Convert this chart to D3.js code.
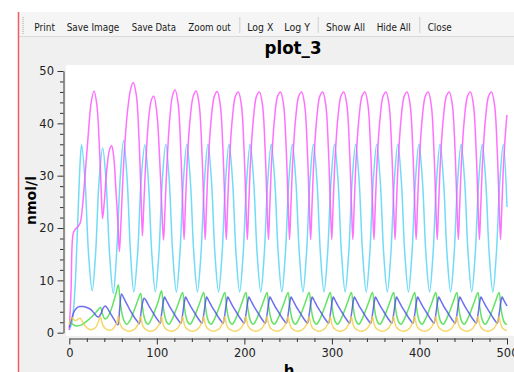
<!DOCTYPE html>
<html><head><meta charset="utf-8">
<script src="https://cdn.jsdelivr.net/npm/d3@7/dist/d3.min.js"></script>
<style>html,body{margin:0;padding:0;background:#fff;overflow:hidden}</style>
</head><body><svg id="c" width="514" height="372"></svg>
<script>
const title = "plot_3";
const xLabel = "h";
const yLabel = "nmol/l";
const toolbarItems = ["Print","Save Image","Save Data","Zoom out","|","Log X","Log Y","|","Show All","Hide All","|","Close"];
const xTicks = [0,100,200,300,400,500];
const yTicks = [0,10,20,30,40,50];

const magenta = [[0,0.5],[2,8],[4.5,19],[7,19.8],[10,20.3],[12.5,21],[15,24],[18,30],[21.5,37.5],[25,44],[28.3,46.2],[31.5,43.5],[34.5,35],[36.5,27],[38,21.8],[40,25],[43,31.5],[46,35],[48.3,35.7],[50.5,34],[53,28],[55.5,21],[57.2,15.5],[59,21],[62,32],[66,41.5],[70,46.5],[73,47.8],[76.5,45.5],[79.5,37.5],[82,26],[83.5,18.5],[85,24],[87.5,33],[91,41.5],[94,44.6],[96.5,45.2],[100,42],[103,34],[105.5,24.5],[107.6,17.7],[109.2,23],[111.5,32],[114.8,41],[117.8,45.2],
[120.8,46.4],[124.3,43.8],[127.3,35],[129.6,24],[131.1,17.8],[132.6,24],[134.8,33],[138.1,41],[141.6,45.2],
[144.9,46.2],[148.4,43.5],[151.4,35],[153.7,24],[155.2,17.8],[156.7,24],[158.9,33],[162.2,41],[165.7,45.2],
[169,46.1],[172.5,43.5],[175.5,35],[177.8,24],[179.3,17.8],[180.8,24],[183,33],[186.3,41],[189.8,45.2],
[193.1,46],[196.6,43.5],[199.6,35],[201.9,24],[203.4,17.8],[204.9,24],[207.1,33],[210.4,41],[213.9,45.2],
[217.2,46],[220.7,43.5],[223.7,35],[226,24],[227.5,17.8],[229,24],[231.2,33],[234.5,41],[238,45.2],
[241.3,46],[244.8,43.5],[247.8,35],[250.1,24],[251.6,17.8],[253.1,24],[255.3,33],[258.6,41],[262.1,45.2],
[265.4,46],[268.9,43.5],[271.9,35],[274.2,24],[275.7,17.8],[277.2,24],[279.4,33],[282.7,41],[286.2,45.2],
[289.5,46],[293,43.5],[296,35],[298.3,24],[299.8,17.8],[301.3,24],[303.5,33],[306.8,41],[310.3,45.2],
[313.6,46],[317.1,43.5],[320.1,35],[322.4,24],[323.9,17.8],[325.4,24],[327.6,33],[330.9,41],[334.4,45.2],
[337.7,46],[341.2,43.5],[344.2,35],[346.5,24],[348,17.8],[349.5,24],[351.7,33],[355,41],[358.5,45.2],
[361.8,46],[365.3,43.5],[368.3,35],[370.6,24],[372.1,17.8],[373.6,24],[375.8,33],[379.1,41],[382.6,45.2],
[385.9,46],[389.4,43.5],[392.4,35],[394.7,24],[396.2,17.8],[397.7,24],[399.9,33],[403.2,41],[406.7,45.2],
[410,46],[413.5,43.5],[416.5,35],[418.8,24],[420.3,17.8],[421.8,24],[424,33],[427.3,41],[430.8,45.2],
[434.1,46],[437.6,43.5],[440.6,35],[442.9,24],[444.4,17.8],[445.9,24],[448.1,33],[451.4,41],[454.9,45.2],
[458.2,46],[461.7,43.5],[464.7,35],[467,24],[468.5,17.8],[470,24],[472.2,33],[475.5,41],[479,45.2],
[482.3,46],[485.8,43.5],[488.8,35],[491.1,24],[492.6,17.8],[494.1,24],[496.3,33],[499.6,41],[500,41.6]];

const cyan = [[0,0.5],[3,2],[6,7],[8,14],[10.5,25],[12.5,33],[14.1,35.9],[18,29],[22,15],[26.2,8.0],[30,15],[34,29],[38.1,35.3],[42,29],[46,15],[50.2,7.5],[54,15],[58,29],[62,36.7],[66,29.5],[70,15],[73.7,7.8],[78,15],[82,29],[86.3,35.9],[90.3,29],[94.3,15],[98.3,7.8],[102.3,15],[106.2,29],
[110.2,36],[114.2,29],[118.2,15],[122.3,7.8],[126.3,15],[130.3,29],
[134.3,36],[138.3,29],[142.3,15],[146.4,7.8],[150.4,15],[154.4,29],
[158.4,36],[162.4,29],[166.4,15],[170.5,7.8],[174.5,15],[178.5,29],
[182.5,36],[186.5,29],[190.5,15],[194.6,7.8],[198.6,15],[202.6,29],
[206.6,36],[210.6,29],[214.6,15],[218.7,7.8],[222.7,15],[226.7,29],
[230.7,36],[234.7,29],[238.7,15],[242.8,7.8],[246.8,15],[250.8,29],
[254.8,36],[258.8,29],[262.8,15],[266.9,7.8],[270.9,15],[274.9,29],
[278.9,36],[282.9,29],[286.9,15],[291,7.8],[295,15],[299,29],
[303,36],[307,29],[311,15],[315.1,7.8],[319.1,15],[323.1,29],
[327.1,36],[331.1,29],[335.1,15],[339.2,7.8],[343.2,15],[347.2,29],
[351.2,36],[355.2,29],[359.2,15],[363.3,7.8],[367.3,15],[371.3,29],
[375.3,36],[379.3,29],[383.3,15],[387.4,7.8],[391.4,15],[395.4,29],
[399.4,36],[403.4,29],[407.4,15],[411.5,7.8],[415.5,15],[419.5,29],
[423.5,36],[427.5,29],[431.5,15],[435.6,7.8],[439.6,15],[443.6,29],
[447.6,36],[451.6,29],[455.6,15],[459.7,7.8],[463.7,15],[467.7,29],
[471.7,36],[475.7,29],[479.7,15],[483.8,7.8],[487.8,15],[491.8,29],
[495.8,36],[500,24]];

const green = [[0,2.2],[4,1.6],[8,1.3],[14,1.5],[20,2.2],[26,3.1],[31,4.0],[35.5,4.8],[38,3.5],[41,2.6],[45,3.3],[49,5.0],[53,7.3],[56,9.1],[58,6.2],[60,3.8],[62.5,2.3],[65.5,1.6],[69.5,2.4],[73.5,4.0],[77.5,5.8],[81.5,7.5],[83.5,5.0],[85.5,3.0],[87.5,2.0],[90,1.6],[93.5,2.5],[97.5,4.1],[101.5,5.9],
[105.3,8.0],[107.3,5.0],[109.3,3.0],[111.3,2.0],[113.8,1.6],[117.3,2.5],[121.3,4.1],[125.3,5.9],
[129.4,7.7],[131.4,5.0],[133.4,3.0],[135.4,2.0],[137.9,1.6],[141.4,2.5],[145.4,4.1],[149.4,5.9],
[153.5,7.7],[155.5,5.0],[157.5,3.0],[159.5,2.0],[162,1.6],[165.5,2.5],[169.5,4.1],[173.5,5.9],
[177.6,7.7],[179.6,5.0],[181.6,3.0],[183.6,2.0],[186.1,1.6],[189.6,2.5],[193.6,4.1],[197.6,5.9],
[201.7,7.7],[203.7,5.0],[205.7,3.0],[207.7,2.0],[210.2,1.6],[213.7,2.5],[217.7,4.1],[221.7,5.9],
[225.8,7.7],[227.8,5.0],[229.8,3.0],[231.8,2.0],[234.3,1.6],[237.8,2.5],[241.8,4.1],[245.8,5.9],
[249.9,7.7],[251.9,5.0],[253.9,3.0],[255.9,2.0],[258.4,1.6],[261.9,2.5],[265.9,4.1],[269.9,5.9],
[274,7.7],[276,5.0],[278,3.0],[280,2.0],[282.5,1.6],[286,2.5],[290,4.1],[294,5.9],
[298.1,7.7],[300.1,5.0],[302.1,3.0],[304.1,2.0],[306.6,1.6],[310.1,2.5],[314.1,4.1],[318.1,5.9],
[322.2,7.7],[324.2,5.0],[326.2,3.0],[328.2,2.0],[330.7,1.6],[334.2,2.5],[338.2,4.1],[342.2,5.9],
[346.3,7.7],[348.3,5.0],[350.3,3.0],[352.3,2.0],[354.8,1.6],[358.3,2.5],[362.3,4.1],[366.3,5.9],
[370.4,7.7],[372.4,5.0],[374.4,3.0],[376.4,2.0],[378.9,1.6],[382.4,2.5],[386.4,4.1],[390.4,5.9],
[394.5,7.7],[396.5,5.0],[398.5,3.0],[400.5,2.0],[403,1.6],[406.5,2.5],[410.5,4.1],[414.5,5.9],
[418.6,7.7],[420.6,5.0],[422.6,3.0],[424.6,2.0],[427.1,1.6],[430.6,2.5],[434.6,4.1],[438.6,5.9],
[442.7,7.7],[444.7,5.0],[446.7,3.0],[448.7,2.0],[451.2,1.6],[454.7,2.5],[458.7,4.1],[462.7,5.9],
[466.8,7.7],[468.8,5.0],[470.8,3.0],[472.8,2.0],[475.3,1.6],[478.8,2.5],[482.8,4.1],[486.8,5.9],
[490.9,7.7],[492.9,5.0],[494.9,3.0],[496.9,2.0],[499.4,1.6],[500,1.65]];

const blue = [[0,1.0],[3,2.8],[6,4.2],[9,4.8],[12,5.0],[16,5.0],[20,4.8],[24,4.5],[28,3.8],[31,3.2],[33.5,3.0],[36,3.6],[39,4.8],[41,5.1],[43,4.8],[47,3.7],[51,2.6],[55.5,1.5],[57.5,4.5],[59.7,7.4],[62,6.7],[66,5.4],[70,4.1],[74,3.0],[78,2.1],[79.8,1.7],[81.5,3.3],[83.5,5.6],[85.5,6.6],[87.5,6.2],[91,5.1],[95,4.0],[99,2.9],[102.5,2.1],[103.8,1.8],
[105.3,3.4],[107.3,5.8],[108.8,6.8],[110.8,6.2],[114.3,5.1],[118.3,4.0],[122.3,2.9],[125.8,2.1],[127.4,1.8],
[129.4,3.4],[131.4,5.8],[132.9,6.8],[134.9,6.2],[138.4,5.1],[142.4,4.0],[146.4,2.9],[149.9,2.1],[151.5,1.8],
[153.5,3.4],[155.5,5.8],[157,6.8],[159,6.2],[162.5,5.1],[166.5,4.0],[170.5,2.9],[174,2.1],[175.6,1.8],
[177.6,3.4],[179.6,5.8],[181.1,6.8],[183.1,6.2],[186.6,5.1],[190.6,4.0],[194.6,2.9],[198.1,2.1],[199.7,1.8],
[201.7,3.4],[203.7,5.8],[205.2,6.8],[207.2,6.2],[210.7,5.1],[214.7,4.0],[218.7,2.9],[222.2,2.1],[223.8,1.8],
[225.8,3.4],[227.8,5.8],[229.3,6.8],[231.3,6.2],[234.8,5.1],[238.8,4.0],[242.8,2.9],[246.3,2.1],[247.9,1.8],
[249.9,3.4],[251.9,5.8],[253.4,6.8],[255.4,6.2],[258.9,5.1],[262.9,4.0],[266.9,2.9],[270.4,2.1],[272,1.8],
[274,3.4],[276,5.8],[277.5,6.8],[279.5,6.2],[283,5.1],[287,4.0],[291,2.9],[294.5,2.1],[296.1,1.8],
[298.1,3.4],[300.1,5.8],[301.6,6.8],[303.6,6.2],[307.1,5.1],[311.1,4.0],[315.1,2.9],[318.6,2.1],[320.2,1.8],
[322.2,3.4],[324.2,5.8],[325.7,6.8],[327.7,6.2],[331.2,5.1],[335.2,4.0],[339.2,2.9],[342.7,2.1],[344.3,1.8],
[346.3,3.4],[348.3,5.8],[349.8,6.8],[351.8,6.2],[355.3,5.1],[359.3,4.0],[363.3,2.9],[366.8,2.1],[368.4,1.8],
[370.4,3.4],[372.4,5.8],[373.9,6.8],[375.9,6.2],[379.4,5.1],[383.4,4.0],[387.4,2.9],[390.9,2.1],[392.5,1.8],
[394.5,3.4],[396.5,5.8],[398,6.8],[400,6.2],[403.5,5.1],[407.5,4.0],[411.5,2.9],[415,2.1],[416.6,1.8],
[418.6,3.4],[420.6,5.8],[422.1,6.8],[424.1,6.2],[427.6,5.1],[431.6,4.0],[435.6,2.9],[439.1,2.1],[440.7,1.8],
[442.7,3.4],[444.7,5.8],[446.2,6.8],[448.2,6.2],[451.7,5.1],[455.7,4.0],[459.7,2.9],[463.2,2.1],[464.8,1.8],
[466.8,3.4],[468.8,5.8],[470.3,6.8],[472.3,6.2],[475.8,5.1],[479.8,4.0],[483.8,2.9],[487.3,2.1],[488.9,1.8],
[490.9,3.4],[492.9,5.8],[494.4,6.8],[496.4,6.2],[500,5.1]];

const yellow = [[0,1.5],[1.5,2.6],[3,2.9],[5,2.5],[7.5,2.3],[10,2.6],[12.5,2.75],[15,2.2],[18,1.3],[22,0.7],[26,0.6],[30,1.0],[33,2.0],[35.5,3.0],[38,1.6],[41,0.8],[45,0.5],[49,0.6],[52,1.2],[54.5,2.0],[56,3.3],[57.5,1.9],[60,1.0],[64,0.5],[68,0.3],[72,0.45],[76,0.9],[78.5,1.6],[80.3,2.4],[81.5,3.1],[83,1.9],[85,1.0],[88.5,0.5],[92.5,0.3],[96.5,0.45],[100,0.9],[102.5,1.6],[104.5,2.4],
[105.3,3.1],[106.8,1.9],[108.8,1.0],[112.3,0.5],[116.3,0.3],[120.3,0.45],[123.8,0.9],[126.3,1.6],[128.3,2.4],
[129.4,3.1],[130.9,1.9],[132.9,1.0],[136.4,0.5],[140.4,0.3],[144.4,0.45],[147.9,0.9],[150.4,1.6],[152.4,2.4],
[153.5,3.1],[155,1.9],[157,1.0],[160.5,0.5],[164.5,0.3],[168.5,0.45],[172,0.9],[174.5,1.6],[176.5,2.4],
[177.6,3.1],[179.1,1.9],[181.1,1.0],[184.6,0.5],[188.6,0.3],[192.6,0.45],[196.1,0.9],[198.6,1.6],[200.6,2.4],
[201.7,3.1],[203.2,1.9],[205.2,1.0],[208.7,0.5],[212.7,0.3],[216.7,0.45],[220.2,0.9],[222.7,1.6],[224.7,2.4],
[225.8,3.1],[227.3,1.9],[229.3,1.0],[232.8,0.5],[236.8,0.3],[240.8,0.45],[244.3,0.9],[246.8,1.6],[248.8,2.4],
[249.9,3.1],[251.4,1.9],[253.4,1.0],[256.9,0.5],[260.9,0.3],[264.9,0.45],[268.4,0.9],[270.9,1.6],[272.9,2.4],
[274,3.1],[275.5,1.9],[277.5,1.0],[281,0.5],[285,0.3],[289,0.45],[292.5,0.9],[295,1.6],[297,2.4],
[298.1,3.1],[299.6,1.9],[301.6,1.0],[305.1,0.5],[309.1,0.3],[313.1,0.45],[316.6,0.9],[319.1,1.6],[321.1,2.4],
[322.2,3.1],[323.7,1.9],[325.7,1.0],[329.2,0.5],[333.2,0.3],[337.2,0.45],[340.7,0.9],[343.2,1.6],[345.2,2.4],
[346.3,3.1],[347.8,1.9],[349.8,1.0],[353.3,0.5],[357.3,0.3],[361.3,0.45],[364.8,0.9],[367.3,1.6],[369.3,2.4],
[370.4,3.1],[371.9,1.9],[373.9,1.0],[377.4,0.5],[381.4,0.3],[385.4,0.45],[388.9,0.9],[391.4,1.6],[393.4,2.4],
[394.5,3.1],[396,1.9],[398,1.0],[401.5,0.5],[405.5,0.3],[409.5,0.45],[413,0.9],[415.5,1.6],[417.5,2.4],
[418.6,3.1],[420.1,1.9],[422.1,1.0],[425.6,0.5],[429.6,0.3],[433.6,0.45],[437.1,0.9],[439.6,1.6],[441.6,2.4],
[442.7,3.1],[444.2,1.9],[446.2,1.0],[449.7,0.5],[453.7,0.3],[457.7,0.45],[461.2,0.9],[463.7,1.6],[465.7,2.4],
[466.8,3.1],[468.3,1.9],[470.3,1.0],[473.8,0.5],[477.8,0.3],[481.8,0.45],[485.3,0.9],[487.8,1.6],[489.8,2.4],
[490.9,3.1],[492.4,1.9],[494.4,1.0],[497.9,0.5],[500,0.4]];

const seriesOrder = ["cyan","magenta","green","blue","yellow"];
const seriesData = {cyan, magenta, green, blue, yellow};

// ---------- layout & style ----------
const svg = d3.select("#c");
const colors = {magenta:"#ff4dff", cyan:"#4fd2f5", green:"#3cdc3c", blue:"#4a4af0", yellow:"#f2cd45"};

svg.append("rect").attr("width",514).attr("height",372).attr("fill","#ffffff");
svg.append("rect").attr("x",19).attr("y",37).attr("width",495).attr("height",335).attr("fill","#f0f0f0");
svg.append("rect").attr("x",19).attr("y",12).attr("width",495).attr("height",24).attr("fill","#f5f5f5");
svg.append("line").attr("x1",19).attr("x2",514).attr("y1",36.5).attr("y2",36.5).attr("stroke","#d9d9d9");
svg.append("line").attr("x1",18.5).attr("x2",18.5).attr("y1",12).attr("y2",372).attr("stroke","#f45b5b").attr("stroke-width",1.5);
// toolbar grip
for (let yy=17; yy<=33; yy+=2) svg.append("rect").attr("x",22.5).attr("y",yy).attr("width",1).attr("height",1).attr("fill","#a0a0a0");

const toolbarX = [34.3,66.7,131.7,188.3,239.3,247.3,284.3,317.7,326,376.7,419.3,427.7];
const toolbarW = [20.7,52.6,44.3,42.4,0,26,25.7,0,39,34,0,24];
toolbarItems.forEach((t,i)=>{
  if (t==="|") {
    svg.append("line").attr("x1",toolbarX[i]+0.5).attr("x2",toolbarX[i]+0.5).attr("y1",17).attr("y2",33).attr("stroke","#d0d0d0");
  } else {
    svg.append("text").attr("x",toolbarX[i]).attr("y",30.7).text(t)
      .attr("font-family","'DejaVu Sans',sans-serif").attr("font-size",11).attr("fill","#1a1a1a")
      .attr("textLength",toolbarW[i]).attr("lengthAdjust","spacingAndGlyphs");
  }
});

svg.append("text").attr("x",293).attr("y",53.5).attr("text-anchor","middle").text(title)
  .attr("font-family","'DejaVu Sans',sans-serif").attr("font-weight","bold").attr("font-size",17).attr("fill","#000")
  .attr("textLength",57).attr("lengthAdjust","spacingAndGlyphs");

// canvas
svg.append("rect").attr("x",66).attr("y",65).attr("width",448).attr("height",271).attr("fill","#ffffff");

const x = d3.scaleLinear().domain([0,500]).range([69.3,507]);
const y = d3.scaleLinear().domain([0,50]).range([332.7,71]);

const axisFont = g => g.selectAll("text").attr("font-family","'DejaVu Sans',sans-serif").attr("font-size",11.5).attr("fill","#222");
const yMinor = d3.range(0,51,2).filter(v=>v%10!==0);
const xMinor = d3.range(0,501,20).filter(v=>v%100!==0);

const gy = svg.append("g").attr("transform","translate(63.5,0)");
gy.call(d3.axisLeft(y).tickValues(yTicks).tickSize(6).tickSizeOuter(0).tickPadding(3.5)).call(axisFont);
gy.append("g").call(d3.axisLeft(y).tickValues(yMinor).tickSize(3.5).tickSizeOuter(0).tickFormat("")).select(".domain").remove();

const gx = svg.append("g").attr("transform","translate(0,338.5)");
gx.call(d3.axisBottom(x).tickValues(xTicks).tickSize(6).tickSizeOuter(0).tickPadding(4)).call(axisFont);
gx.append("g").call(d3.axisBottom(x).tickValues(xMinor).tickSize(3.5).tickSizeOuter(0).tickFormat("")).select(".domain").remove();
svg.selectAll(".domain, .tick line").attr("stroke","#333");

svg.append("text").attr("transform","translate(35.5,200.5) rotate(-90)").attr("text-anchor","middle").text(yLabel)
  .attr("font-family","'DejaVu Sans',sans-serif").attr("font-weight","bold").attr("font-size",14).attr("fill","#000");
svg.append("text").attr("x",289).attr("y",376).attr("text-anchor","middle").text(xLabel)
  .attr("font-family","'DejaVu Sans',sans-serif").attr("font-weight","bold").attr("font-size",15).attr("fill","#000");

svg.append("clipPath").attr("id","cv").append("rect").attr("x",66).attr("y",65).attr("width",448).attr("height",271);
const line = d3.line().x(d=>x(d[0])).y(d=>y(d[1])).curve(d3.curveCatmullRom.alpha(0.5));
const gl = svg.append("g").attr("clip-path","url(#cv)");
seriesOrder.forEach(k=>{
  gl.append("path").datum(seriesData[k]).attr("d",line).attr("fill","none")
    .attr("stroke",colors[k]).attr("stroke-width",1.5).attr("stroke-opacity",0.8);
});
</script></body></html>
